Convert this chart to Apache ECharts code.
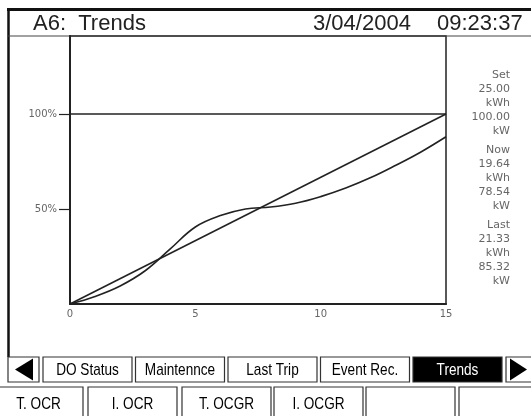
<!DOCTYPE html>
<html>
<head>
<meta charset="utf-8">
<script src="https://cdn.jsdelivr.net/npm/echarts@6/dist/echarts.min.js"></script>
<style>
  html, body { margin: 0; padding: 0; background: #fff; }
  #chart { width: 531px; height: 416px; }
</style>
</head>
<body>
<div id="chart"></div>
<script>
// trend data (minutes vs % of demand setting)
const minutes = [0, 1, 2, 3, 4, 5, 6, 7, 8, 9, 10, 11, 12, 13, 14, 15];
const demandPct = [0, 4, 9.5, 17.5, 29, 40.5, 46.5, 50, 51, 53, 56.5, 61, 66.5, 73, 80, 88];
const targetMinutes = [0, 15];
const targetPct = [0, 100];
const yTicks = [50, 100];

// screen texts
const headerTitle = 'A6:  Trends';
const headerDate = '3/04/2004';
const headerTime = '09:23:37';
const panelHeads = ['Set', 'Now', 'Last'];
const panelEnergy = ['25.00', '19.64', '21.33'];
const panelPower = ['100.00', '78.54', '85.32'];
const menuTop = ['DO Status', 'Maintennce', 'Last Trip', 'Event Rec.', 'Trends'];
const menuBottom = ['T. OCR', 'I. OCR', 'T. OCGR', 'I. OCGR', '', ''];
const activeMenu = 'Trends';

const chart = echarts.init(document.getElementById('chart'));

const ink = '#222';
const grey = '#666';
const btnFont = '17px "Liberation Sans", sans-serif';

// screen frame + header
const graphics = [
  { type: 'line', shape: { x1: 7, y1: 9.5, x2: 531, y2: 9.5 }, style: { stroke: '#111', lineWidth: 3 } },
  { type: 'line', shape: { x1: 8.5, y1: 9, x2: 8.5, y2: 357 }, style: { stroke: '#111', lineWidth: 2.5 } },
  { type: 'line', shape: { x1: 8, y1: 36, x2: 531, y2: 36 }, style: { stroke: '#444', lineWidth: 1.2 } },
  { type: 'text', x: 33, y: 24, style: { text: headerTitle, font: '22px "Liberation Sans", sans-serif', fill: ink, verticalAlign: 'middle' } },
  { type: 'text', x: 313, y: 24, style: { text: headerDate, font: '22px "Liberation Sans", sans-serif', fill: ink, verticalAlign: 'middle' } },
  { type: 'text', x: 437, y: 24, style: { text: headerTime, font: '22px "Liberation Sans", sans-serif', fill: ink, verticalAlign: 'middle' } }
];

// right side readout
panelHeads.forEach((h, i) => {
  const lines = [h, panelEnergy[i], 'kWh', panelPower[i], 'kW'];
  lines.forEach((t, j) => {
    graphics.push({
      type: 'text', x: 510, y: 75 + i * 75 + j * 14,
      style: { text: t, font: '11px "DejaVu Sans", sans-serif', fill: grey, align: 'right', verticalAlign: 'middle' }
    });
  });
});

// narrow button label (condensed by horizontal scale)
function btnText(cx, cy, label, color) {
  return {
    type: 'text', x: cx, y: cy, scaleX: 0.8,
    style: { text: label, font: btnFont, fill: color, align: 'center', verticalAlign: 'middle' }
  };
}

// menu buttons, top row
graphics.push({ type: 'rect', shape: { x: 8, y: 357, width: 31, height: 25 }, style: { fill: '#fff', stroke: '#333', lineWidth: 1.2 } });
graphics.push({ type: 'polygon', shape: { points: [[33, 358.5], [33, 380.5], [15, 369.5]] }, style: { fill: '#000' } });
menuTop.forEach((label, i) => {
  const x = 43 + i * 92.5;
  const on = label === activeMenu;
  graphics.push({ type: 'rect', shape: { x: x, y: 357, width: 89, height: 25 }, style: { fill: on ? '#000' : '#fff', stroke: '#333', lineWidth: 1.2 } });
  graphics.push(btnText(x + 44.5, 370, label, on ? '#fff' : '#000'));
});
graphics.push({ type: 'rect', shape: { x: 506, y: 357, width: 30, height: 25 }, style: { fill: '#fff', stroke: '#333', lineWidth: 1.2 } });
graphics.push({ type: 'polygon', shape: { points: [[510, 358.5], [510, 380.5], [527, 369.5]] }, style: { fill: '#000' } });

// bottom row
const bottomX = [-6, 88, 182, 274, 366, 459];
menuBottom.forEach((label, i) => {
  const x = bottomX[i];
  graphics.push({ type: 'rect', shape: { x: x, y: 387, width: 89, height: 34 }, style: { fill: '#fff', stroke: '#333', lineWidth: 1.2 } });
  if (label) graphics.push(btnText(x + 44.5, 404, label, '#000'));
});

const option = {
  backgroundColor: '#fff',
  animation: false,
  grid: {
    left: 70, right: 85, top: 36, bottom: 112,
    show: true, borderColor: ink, borderWidth: 1.5, backgroundColor: 'transparent'
  },
  xAxis: {
    type: 'value',
    min: 0, max: 15, interval: 5,
    axisLine: { show: true, lineStyle: { color: ink, width: 2 } },
    axisTick: { show: false },
    splitLine: { show: false },
    axisLabel: { color: grey, fontSize: 10, fontFamily: 'DejaVu Sans', margin: 5 }
  },
  yAxis: {
    type: 'value',
    min: 0, max: 141,
    axisLine: { show: true, lineStyle: { color: ink, width: 2 } },
    axisTick: { show: true, length: 11, customValues: yTicks, lineStyle: { color: ink, width: 1.2 } },
    splitLine: { show: false },
    axisLabel: {
      customValues: yTicks, formatter: '{value}%',
      color: grey, fontSize: 10, fontFamily: 'DejaVu Sans', margin: 13
    }
  },
  series: [
    {
      name: 'Set',
      type: 'line',
      data: targetMinutes.map((m, i) => [m, targetPct[i]]),
      showSymbol: false,
      lineStyle: { color: ink, width: 1.6 },
      markLine: {
        silent: true,
        symbol: 'none',
        label: { show: false },
        lineStyle: { color: ink, width: 1.6, type: 'solid' },
        data: [{ yAxis: 100 }]
      }
    },
    {
      name: 'Now',
      type: 'line',
      data: minutes.map((m, i) => [m, demandPct[i]]),
      smooth: 0.4,
      showSymbol: false,
      lineStyle: { color: ink, width: 1.6 }
    }
  ],
  graphic: graphics
};

chart.setOption(option);
</script>
</body>
</html>
